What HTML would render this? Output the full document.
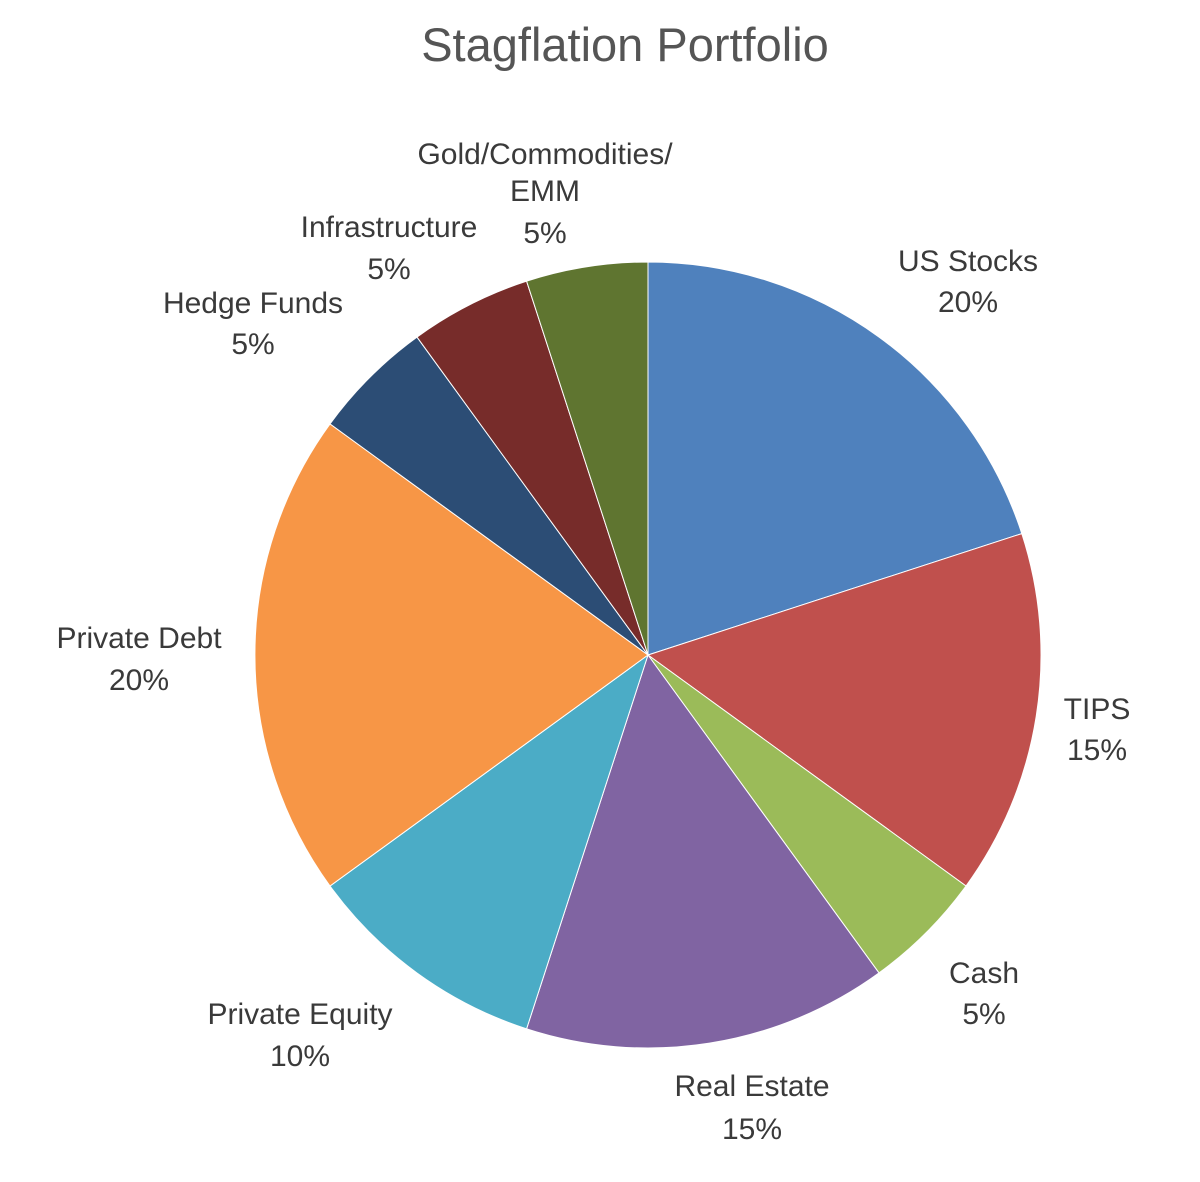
<!DOCTYPE html>
<html><head><meta charset="utf-8"><style>
html,body{margin:0;padding:0;background:#fff;}
svg text{font-family:"Liberation Sans",sans-serif;fill:#3a3a3a;text-anchor:middle;}
</style></head><body>
<svg width="1200" height="1177" viewBox="0 0 1200 1177" xmlns="http://www.w3.org/2000/svg">
<text x="625" y="61" font-size="47" style="fill:#555">Stagflation Portfolio</text>
<g stroke="#fff" stroke-width="1">
<path d="M648,655 L648,262 A393,393 0 0 1 1021.8,533.6 Z" fill="#4f81bd"/>
<path d="M648,655 L1021.8,533.6 A393,393 0 0 1 966,886 Z" fill="#c0504d"/>
<path d="M648,655 L966,886 A393,393 0 0 1 879,972.9 Z" fill="#9bbb59"/>
<path d="M648,655 L879,972.9 A393,393 0 0 1 526.6,1028.8 Z" fill="#8064a2"/>
<path d="M648,655 L526.6,1028.8 A393,393 0 0 1 330,886 Z" fill="#4bacc6"/>
<path d="M648,655 L330,886 A393,393 0 0 1 330,423.9 Z" fill="#f79646"/>
<path d="M648,655 L330,423.9 A393,393 0 0 1 417,337.1 Z" fill="#2c4d75"/>
<path d="M648,655 L417,337.1 A393,393 0 0 1 526.6,281.2 Z" fill="#772c2a"/>
<path d="M648,655 L526.6,281.2 A393,393 0 0 1 648,262 Z" fill="#5f7530"/>
</g>
<g font-size="30">
<text x="968" y="271">US Stocks</text><text x="968" y="312">20%</text>
<text x="1097" y="719">TIPS</text><text x="1097" y="760">15%</text>
<text x="984" y="983">Cash</text><text x="984" y="1024">5%</text>
<text x="752" y="1096">Real Estate</text><text x="752" y="1139">15%</text>
<text x="300" y="1024">Private Equity</text><text x="300" y="1066">10%</text>
<text x="139" y="648">Private Debt</text><text x="139" y="690">20%</text>
<text x="253" y="313">Hedge Funds</text><text x="253" y="354">5%</text>
<text x="389" y="237">Infrastructure</text><text x="389" y="279">5%</text>
<text x="545" y="164">Gold/Commodities/</text><text x="545" y="201">EMM</text><text x="545" y="243">5%</text>
</g>
</svg>
</body></html>
